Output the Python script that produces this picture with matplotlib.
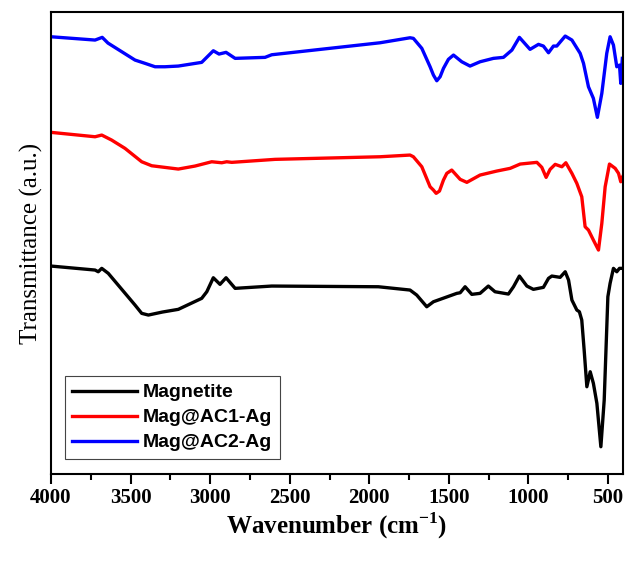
"""
FTIR spectra of magnetite and the two Ag composites, redrawn from the figure.
Values read off the picture (arbitrary transmittance units, curves already offset).
"""

import matplotlib
matplotlib.use('Agg')
import matplotlib.pyplot as plt
from matplotlib.ticker import MultipleLocator

plt.rcParams['mathtext.fontset'] = 'custom'
plt.rcParams['mathtext.rm'] = 'Liberation Serif'
plt.rcParams['mathtext.bf'] = 'Liberation Serif:bold'

# magnetite (black)
wn_mag = [4000, 3723, 3703, 3681, 3640, 3472, 3430, 3388, 3300, 3200, 3053, 3021,
          2980, 2938, 2900, 2843, 2613, 1943, 1744, 1702, 1639, 1597, 1450, 1429,
          1398, 1356, 1304, 1252, 1210, 1126, 1094, 1057, 1010, 969, 906, 874, 853,
          801, 769, 748, 727, 696, 680, 665, 650, 633, 612, 592, 570, 545, 524, 501,
          487, 466, 445, 428, 408]
t_mag = [207, 203, 201.3, 204.7, 199.7, 168, 159.7, 158, 161, 163.7, 174.7, 181.3,
         195.3, 188.7, 195.3, 184.7, 187, 186.3, 183, 178, 166.3, 171.3, 179.7, 180.3,
         186.3, 178.7, 179.7, 187, 181.3, 179, 186.3, 197, 187, 183.7, 185.7, 194.7,
         197, 195.7, 201.3, 193, 173, 163, 161.3, 153, 123, 86.3, 101.3, 89.7, 69.7,
         26.3, 73, 176.3, 189.7, 204.7, 201.3, 204.7, 204.7]

# Mag@AC1-Ag (red)
wn_ac1 = [4000, 3723, 3681, 3619, 3535, 3430, 3367, 3200, 3095, 2990, 2927, 2896,
          2864, 2592, 1932, 1744, 1723, 1670, 1618, 1597, 1580, 1559, 1534, 1513,
          1482, 1429, 1387, 1304, 1199, 1115, 1052, 947, 916, 889, 864, 832, 790,
          765, 727, 696, 665, 644, 623, 592, 560, 539, 518, 491, 455, 434, 420, 408]
t_ac1 = [340.7, 336.3, 338, 333, 324.7, 311.3, 307.3, 304, 307, 311.3, 310.3, 311.3,
         310.7, 313.7, 316.3, 318, 316.3, 306.3, 286.3, 283, 279.7, 282, 293, 299.7,
         303, 293.7, 290.7, 298, 302, 304.7, 309, 310.7, 305.7, 295.7, 303.7, 308.7,
         306.3, 310.3, 299.7, 289.7, 276.3, 246.3, 243, 233, 223, 249.7, 286.3, 309,
         304.7, 299.7, 291.3, 296.3]

# Mag@AC2-Ag (blue)
wn_ac2 = [4000, 3723, 3678, 3642, 3472, 3409, 3346, 3284, 3200, 3053, 2980, 2944,
          2900, 2843, 2655, 2613, 1932, 1744, 1723, 1670, 1618, 1597, 1576, 1555,
          1534, 1503, 1471, 1419, 1367, 1304, 1220, 1157, 1104, 1057, 990, 937, 906,
          874, 843, 822, 769, 727, 675, 654, 623, 592, 567, 539, 508, 487, 466, 445,
          428, 420, 410]
t_ac2 = [436.3, 433, 435.7, 430, 413, 409.7, 406.3, 406.3, 407, 410.7, 422.3, 419,
         420.7, 414.7, 415.7, 418.3, 430.3, 435.3, 434.7, 424.7, 406.3, 398, 392.3,
         396.3, 404.7, 413.7, 418, 411.3, 407, 411.3, 414.7, 415.7, 423, 435.7, 423.7,
         428.7, 427, 420.3, 427, 427, 437, 433, 419.7, 409.7, 386.3, 374.7, 355.7,
         379.7, 419.7, 436.3, 428, 406.3, 408, 389.7, 414.7]

labels = ['Magnetite', 'Mag@AC1-Ag', 'Mag@AC2-Ag']
colors = ['black', 'red', 'blue']

fig = plt.figure(figsize=(6.27, 5.61), dpi=100)
ax = fig.add_axes([0.0813, 0.155, 0.9123, 0.8235])

for wn, t, lab, c in zip([wn_mag, wn_ac1, wn_ac2], [t_mag, t_ac1, t_ac2], labels, colors):
    ax.plot(wn, t, color=c, lw=2.4, label=lab, solid_joinstyle='round')

ax.set_xlim(4000, 406)
ax.set_ylim(-1, 461)
ax.xaxis.set_major_locator(MultipleLocator(500))
ax.xaxis.set_minor_locator(MultipleLocator(250))
ax.tick_params(axis='x', which='major', direction='out', length=7, width=1.5, pad=3,
               labelsize=15)
ax.tick_params(axis='x', which='minor', direction='out', length=4, width=1.5)
ax.set_yticks([])
for lab in ax.get_xticklabels():
    lab.set_fontfamily('Liberation Serif')
    lab.set_fontweight('bold')
for s in ax.spines.values():
    s.set_linewidth(1.5)

ax.set_xlabel(r'Wavenumber (cm$^{\mathbf{-1}}$)', fontsize=18, fontweight='bold',
              fontfamily='Liberation Serif', labelpad=2)
ax.set_ylabel('Transmittance (a.u.)', fontsize=18, fontfamily='Liberation Serif',
              labelpad=6)

leg = ax.legend(loc='lower left', bbox_to_anchor=(0.024, 0.032), borderaxespad=0,
                prop={'family': 'Liberation Sans', 'weight': 'bold', 'size': 14},
                handlelength=3.3, labelspacing=0.38, handletextpad=0.3,
                borderpad=0.4, fancybox=False, framealpha=1, edgecolor='#444444')
leg.get_frame().set_linewidth(0.8)

fig.savefig('out.png', dpi=100)
